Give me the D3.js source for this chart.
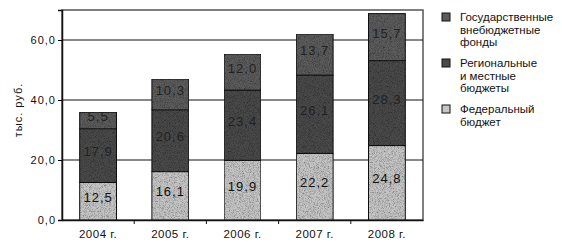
<!DOCTYPE html>
<html>
<head>
  <meta charset='utf-8'>
  <title>Бюджеты</title>
  <script src='https://cdn.jsdelivr.net/npm/d3@7/dist/d3.min.js'></script>
  <style type='text/css'>
    body { margin: 0; background: #fff; }
    text { font-family: 'Liberation Sans', Arial, sans-serif; fill: #111; }
  </style>
</head>
<body>
  <div id='chart'></div>
  <script>
    // chart data
    const years = ['2004 г.', '2005 г.', '2006 г.', '2007 г.', '2008 г.'];
    const federal = [12.5, 16.1, 19.9, 22.2, 24.8];
    const regional = [17.9, 20.6, 23.4, 26.1, 28.3];
    const funds = [5.5, 10.3, 12.0, 13.7, 15.7];
    const yTicks = [0, 20, 40, 60];
    const legendLines = [
      ['Государственные', 'внебюджетные', 'фонды'],
      ['Региональные', 'и местные', 'бюджеты'],
      ['Федеральный', 'бюджет']
    ];

    const W = 562, H = 248;
    const margin = { top: 10, right: 139, bottom: 28, left: 62 };
    const width = W - margin.left - margin.right;
    const height = H - margin.top - margin.bottom;

    const svg = d3.select('#chart').append('svg')
        .attr('width', W).attr('height', H);

    // grainy fills to mimic the scanned look
    const defs = svg.append('defs');
    const fillColors = ['#c6c6c6', '#4a4a4a', '#5c5c5c'];
    fillColors.forEach((c, i) => {
        const f = defs.append('filter').attr('id', 'grain' + i)
            .attr('x', 0).attr('y', 0).attr('width', 1).attr('height', 1);
        f.append('feTurbulence').attr('type', 'fractalNoise')
            .attr('baseFrequency', 1.2).attr('numOctaves', 2).attr('seed', i + 2)
            .attr('result', 'noise');
        f.append('feColorMatrix').attr('in', 'noise').attr('type', 'matrix')
            .attr('values', '0 0 0 0 0  0 0 0 0 0  0 0 0 0 0  0 0 0 1.4 -0.55')
            .attr('result', 'dots');
        f.append('feComposite').attr('in', 'dots').attr('in2', 'SourceGraphic')
            .attr('operator', 'atop');
    });

    const g = svg.append('g')
        .attr('transform', `translate(${margin.left}, ${margin.top})`);

    const x = d3.scaleBand().domain(years).range([0, width]).paddingInner(0.49).paddingOuter(0.245);
    const y = d3.scaleLinear().domain([0, 70]).range([height, 0]);

    // frame and gridlines
    g.append('rect').attr('x', 0).attr('y', 0).attr('width', width).attr('height', height)
        .attr('fill', 'none').attr('stroke', '#555').attr('stroke-width', 1.5);
    g.selectAll('.grid').data(yTicks.slice(1)).enter().append('line')
        .attr('class', 'grid')
        .attr('x1', 0).attr('x2', width)
        .attr('y1', d => y(d)).attr('y2', d => y(d))
        .attr('stroke', '#111').attr('stroke-width', 1);

    // stacked bars
    const rows = years.map((yr, i) => ({ year: yr, federal: federal[i], regional: regional[i], funds: funds[i] }));
    const stack = d3.stack().keys(['federal', 'regional', 'funds'])(rows);
    stack.forEach((layer, li) => {
        const lg = g.append('g');
        lg.selectAll('rect').data(layer).enter().append('rect')
            .attr('x', d => x(d.data.year))
            .attr('y', d => y(d[1]))
            .attr('width', x.bandwidth())
            .attr('height', d => y(d[0]) - y(d[1]))
            .attr('fill', fillColors[li])
            .attr('filter', `url(#grain${li})`)
            .attr('stroke', '#111').attr('stroke-width', 1);
        lg.selectAll('text').data(layer).enter().append('text')
            .attr('x', d => x(d.data.year) + x.bandwidth() / 2)
            .attr('y', d => (y(d[0]) + y(d[1])) / 2 - 4)
            .attr('dy', '0.35em')
            .attr('text-anchor', 'middle')
            .style('font-size', '13px')
            .style('letter-spacing', '1px')
            .style('fill', li === 0 ? '#111' : '#222')
            .text(d => d3.format('.1f')(d[1] - d[0]).replace('.', ','));
    });

    // axes
    const yAxis = g.append('g')
        .call(d3.axisLeft(y).tickValues(yTicks).tickSize(4).tickFormat(d => d3.format('.1f')(d).replace('.', ',')));
    yAxis.select('.domain').attr('stroke', '#111').attr('stroke-width', 1.5);
    yAxis.selectAll('text').style('font-size', '11px').style('letter-spacing', '1px').attr('x', -6);

    const xAxis = g.append('g').attr('transform', `translate(0, ${height})`)
        .call(d3.axisBottom(x).tickSize(0).tickPadding(10));
    xAxis.select('.domain').attr('stroke', '#111').attr('stroke-width', 1.5);
    xAxis.selectAll('text').style('font-size', '11.5px').style('letter-spacing', '0.5px');
    const step = x.step();
    xAxis.selectAll('.sep').data(d3.range(1, years.length)).enter().append('line')
        .attr('x1', d => d * step).attr('x2', d => d * step)
        .attr('y1', 0).attr('y2', 4).attr('stroke', '#111');

    // y title
    svg.append('text')
        .attr('transform', `translate(22, ${margin.top + 100}) rotate(-90)`)
        .attr('text-anchor', 'middle')
        .style('font-size', '11px')
        .style('letter-spacing', '1px')
        .text('тыс. руб.');

    // legend
    const legend = svg.append('g').attr('transform', 'translate(442, 0)');
    const legendY = [21, 67, 113];
    legendLines.forEach((lines, i) => {
        const li = 2 - i;
        legend.append('rect')
            .attr('x', 0).attr('y', legendY[i] - 8).attr('width', 8).attr('height', 8)
            .attr('fill', fillColors[li]).attr('stroke', '#111');
        const t = legend.append('text').attr('x', 18).attr('y', legendY[i])
            .style('font-size', '11.5px');
        lines.forEach((ln, k) => {
            t.append('tspan').attr('x', 18).attr('dy', k === 0 ? 0 : 12.5).text(ln);
        });
    });
  </script>
</body>
</html>
